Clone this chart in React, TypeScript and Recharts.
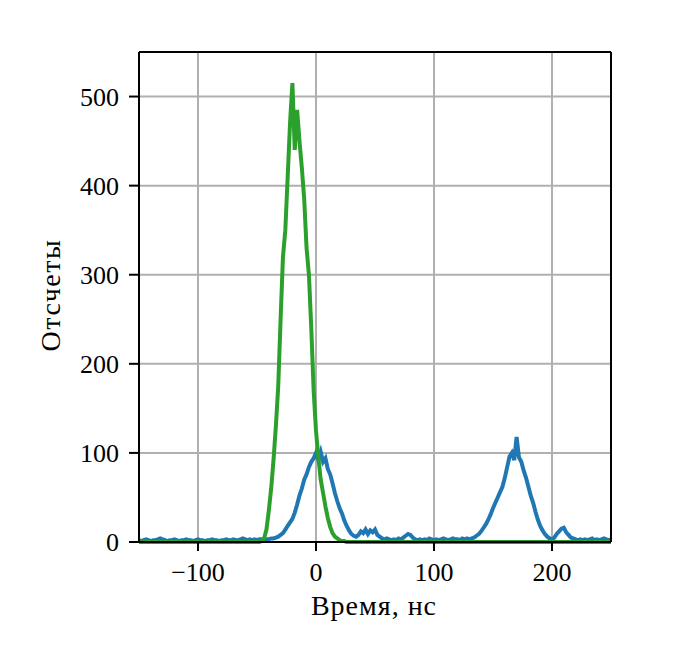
import React from "react"
import {
  LineChart,
  Line,
  XAxis,
  YAxis,
  CartesianGrid,
  ReferenceLine,
} from "recharts"

// histogram bins: start time and step, ns
const T_START = -150
const T_STEP = 2

// counts per bin, blue series (one row = 10 bins = 20 ns)
const blueCounts = [
  2, 1, 2, 3, 2, 1, 2, 2, 3, 4,
  3, 2, 1, 2, 2, 3, 2, 1, 2, 2,
  3, 2, 2, 1, 2, 3, 2, 2, 1, 2,
  2, 3, 2, 2, 1, 2, 2, 3, 2, 2,
  3, 2, 2, 3, 4, 3, 2, 3, 2, 3,
  2, 3, 3, 2, 3, 3, 4, 4, 5, 6,
  8, 10, 14, 18, 22, 26, 33, 42, 52, 60,
  70, 76, 84, 90, 94, 100, 92, 101, 90, 94,
  82, 76, 66, 55, 46, 38, 32, 24, 18, 13,
  9, 7, 6, 8, 12, 10, 14, 9, 13, 11,
  14, 8, 6, 4, 3, 4, 3, 2, 3, 2,
  4, 3, 5, 7, 9, 8, 5, 3, 2, 3,
  2, 3, 2, 4, 3, 2, 3, 2, 3, 4,
  3, 2, 3, 4, 3, 3, 2, 4, 3, 4,
  3, 4, 5, 7, 9, 12, 16, 20, 25, 31,
  38, 44, 50, 56, 62, 72, 84, 96, 100, 92,
  118, 95, 90, 80, 72, 62, 52, 44, 34, 25,
  18, 13, 9, 6, 4, 3, 5, 9, 12, 15,
  16, 11, 8, 5, 4, 3, 2, 3, 2, 3,
  2, 3, 4, 2, 3, 2, 3, 4, 3, 2,
  3,
]

// counts per bin, green series
const greenCounts = [
  0, 0, 0, 0, 0, 0, 0, 0, 0, 0,
  0, 0, 0, 0, 0, 0, 0, 0, 0, 0,
  0, 0, 0, 0, 0, 0, 0, 0, 0, 0,
  0, 0, 0, 0, 0, 0, 0, 0, 0, 0,
  0, 0, 0, 0, 0, 0, 0, 0, 0, 0,
  0, 0, 1, 4, 14, 35, 60, 92, 130, 175,
  250, 320, 350, 410, 470, 515, 440, 485, 450, 420,
  385, 330, 300, 240, 170, 125, 95, 70, 55, 40,
  27, 17, 10, 6, 4, 2, 1, 1, 0, 0,
  0, 0, 0, 0, 0, 0, 0, 0, 0, 0,
  0, 0, 0, 0, 0, 0, 0, 0, 0, 0,
  0, 0, 0, 0, 0, 0, 0, 0, 0, 0,
  0, 0, 0, 0, 0, 0, 0, 0, 0, 0,
  0, 0, 0, 0, 0, 0, 0, 0, 0, 0,
  0, 0, 0, 0, 0, 0, 0, 0, 0, 0,
  0, 0, 0, 0, 0, 0, 0, 0, 0, 0,
  0, 0, 0, 0, 0, 0, 0, 0, 0, 0,
  0, 0, 0, 0, 0, 0, 0, 0, 0, 0,
  0, 0, 0, 0, 0, 0, 0, 0, 0, 0,
  0, 0, 0, 0, 0, 0, 0, 0, 0, 0,
  0,
]

const xTicks = [-100, 0, 100, 200]
const yTicks = [0, 100, 200, 300, 400, 500]

const data = blueCounts.map((b, i) => ({
  t: T_START + i * T_STEP,
  blue: b,
  green: greenCounts[i],
}))

const font = "'Liberation Serif', 'Times New Roman', serif"
const tickStyle = { fill: "#000", fontSize: 26, fontFamily: font }
const blackLine = { stroke: "#000", strokeWidth: 2 }

const fmt = (v: number) => (v < 0 ? `\u2212${Math.abs(v)}` : `${v}`)

export default function App() {
  return (
    <div style={{ position: "relative", width: 682, height: 659, background: "#fff" }}>
      <style>{"body{margin:0}"}</style>
      <LineChart
        width={682}
        height={659}
        data={data}
        margin={{ top: 52, right: 71, bottom: 57, left: 79 }}
      >
        <CartesianGrid stroke="#b0b0b0" strokeWidth={2} />
        <XAxis
          dataKey="t"
          type="number"
          domain={[-150, 250]}
          ticks={xTicks}
          tickFormatter={fmt}
          height={60}
          axisLine={blackLine}
          tickLine={blackLine}
          tickSize={9}
          tickMargin={12}
          tick={tickStyle}
        />
        <YAxis
          type="number"
          domain={[0, 550]}
          ticks={yTicks}
          width={60}
          axisLine={blackLine}
          tickLine={blackLine}
          tickSize={10}
          tickMargin={10}
          tick={tickStyle}
        />
        <Line
          type="linear"
          dataKey="blue"
          stroke="#1f77b4"
          strokeWidth={4}
          dot={false}
          isAnimationActive={false}
        />
        <Line
          type="linear"
          dataKey="green"
          stroke="#2ca02c"
          strokeWidth={4}
          dot={false}
          isAnimationActive={false}
        />
        <ReferenceLine y={550} stroke="#000" strokeWidth={2} />
        <ReferenceLine x={250} stroke="#000" strokeWidth={2} />
      </LineChart>
      <svg
        width={682}
        height={659}
        style={{ position: "absolute", left: 0, top: 0, pointerEvents: "none" }}
      >
        <text
          x={374}
          y={615}
          textAnchor="middle"
          fontFamily={font}
          fontSize={28}
          letterSpacing={1}
          fill="#000"
        >
          Время, нс
        </text>
        <text
          x={60}
          y={295}
          textAnchor="middle"
          fontFamily={font}
          fontSize={28}
          letterSpacing={1.5}
          fill="#000"
          transform="rotate(-90, 60, 295)"
        >
          Отсчеты
        </text>
      </svg>
    </div>
  )
}
